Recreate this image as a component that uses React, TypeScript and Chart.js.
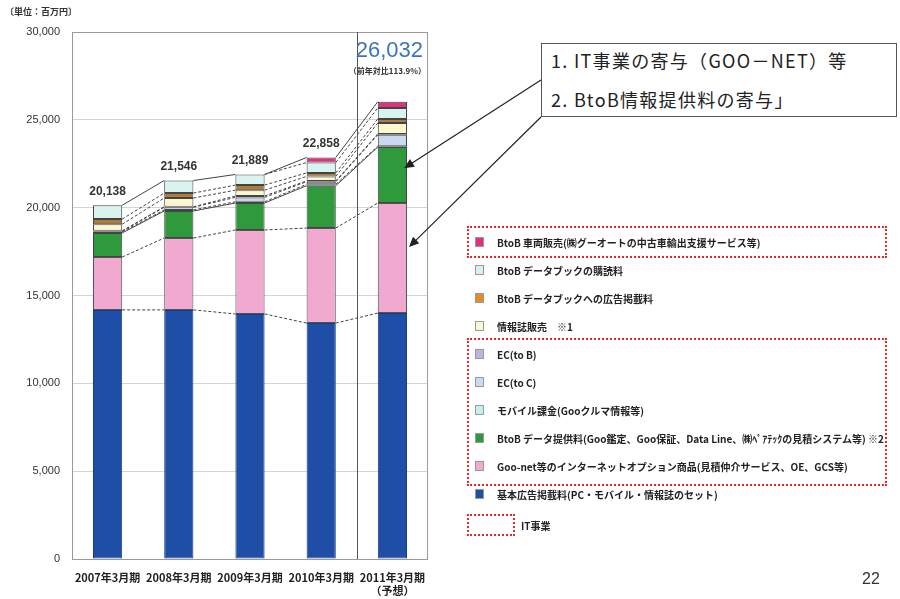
import React, { useEffect, useRef } from "react";
import { Chart, registerables } from "chart.js";
Chart.register(...registerables);

// ---- data (百万円) ----
const CATEGORIES: string[][] = [["2007年3月期"], ["2008年3月期"], ["2009年3月期"], ["2010年3月期"], ["2011年3月期", "（予想）"]];
const BASIC_AD = [14180, 14180, 13950, 13430, 14000];
const INTERNET_OPTION = [3010, 4090, 4780, 5410, 6265];
const BTOB_DATA = [1370, 1540, 1535, 2410, 3185];
const MOBILE = [60, 60, 70, 80, 50];
const EC_TO_C = [40, 150, 250, 150, 650];
const EC_TO_B = [20, 30, 80, 40, 50];
const MAGAZINE = [380, 500, 330, 260, 620];
const DATABOOK_AD = [290, 280, 290, 200, 230];
const DATABOOK_SUB = [788, 716, 604, 590, 630];
const VEHICLE: (number | null)[] = [null, null, null, 288, 352];
const Y_TICKS = [0, 5000, 10000, 15000, 20000, 25000, 30000];
const YOY_TEXT = "（前年対比113.9%）";

const SERIES = [
  { label: "基本広告掲載料(PC・モバイル・情報誌のセット)", data: BASIC_AD, color: "#1f4ea6", border: "#173c82" },
  { label: "Goo-net等のインターネットオプション商品(見積仲介サービス、OE、GCS等)", data: INTERNET_OPTION, color: "#f2a9cf", border: "#555" },
  { label: "BtoB データ提供料(Goo鑑定、Goo保証、Data Line、㈱ﾍﾟｱﾃｯｸの見積システム等) ※2", data: BTOB_DATA, color: "#2e9a3c", border: "#444" },
  { label: "モバイル課金(Gooクルマ情報等)", data: MOBILE, color: "#c6eef2", border: "#444" },
  { label: "EC(to C)", data: EC_TO_C, color: "#c9d9f1", border: "#444" },
  { label: "EC(to B)", data: EC_TO_B, color: "#b7b6e6", border: "#444" },
  { label: "情報誌販売 ※1", data: MAGAZINE, color: "#fbf8cf", border: "#444" },
  { label: "BtoB データブックへの広告掲載料", data: DATABOOK_AD, color: "#b27a3a", border: "#444" },
  { label: "BtoB データブックの購読料", data: DATABOOK_SUB, color: "#d9f3ef", border: "#444" },
  { label: "BtoB 車両販売(㈱グーオートの中古車輸出支援サービス等)", data: VEHICLE, color: "#e2307f", border: "#444" },
];

// legend order (top to bottom) with marker colours
const LEGEND = [
  { text: "BtoB 車両販売(㈱グーオートの中古車輸出支援サービス等)", color: "#e2307f" },
  { text: "BtoB データブックの購読料", color: "#d6f1ee" },
  { text: "BtoB データブックへの広告掲載料", color: "#e68a2e" },
  { text: "情報誌販売　※1", color: "#fbf8cf" },
  { text: "EC(to B)", color: "#b7b6e6" },
  { text: "EC(to C)", color: "#c9d9f1" },
  { text: "モバイル課金(Gooクルマ情報等)", color: "#c6eef2" },
  { text: "BtoB データ提供料(Goo鑑定、Goo保証、Data Line、㈱ﾍﾟｱﾃｯｸの見積システム等) ※2", color: "#2e9a3c" },
  { text: "Goo-net等のインターネットオプション商品(見積仲介サービス、OE、GCS等)", color: "#f2a9cf" },
  { text: "基本広告掲載料(PC・モバイル・情報誌のセット)", color: "#1f4ea6" },
];

const CALLOUT = { left: 541, top: 43, width: 356, height: 74 };
const JP = '"Noto Sans CJK JP", "Noto Sans", sans-serif';

function arrow(ctx: CanvasRenderingContext2D, x1: number, y1: number, x2: number, y2: number) {
  const ang = Math.atan2(y2 - y1, x2 - x1);
  ctx.beginPath();
  ctx.moveTo(x1, y1);
  ctx.lineTo(x2 - Math.cos(ang) * 6, y2 - Math.sin(ang) * 6);
  ctx.stroke();
  const h = 10, w = 4.5;
  ctx.beginPath();
  ctx.moveTo(x2, y2);
  ctx.lineTo(x2 - h * Math.cos(ang) + w * Math.sin(ang), y2 - h * Math.sin(ang) - w * Math.cos(ang));
  ctx.lineTo(x2 - h * Math.cos(ang) - w * Math.sin(ang), y2 - h * Math.sin(ang) + w * Math.cos(ang));
  ctx.closePath();
  ctx.fill();
}

const overlay = {
  id: "overlay",
  beforeDatasetsDraw(chart: any) {
    const { ctx, chartArea: a, scales } = chart;
    const x = scales.x;
    ctx.save();
    ctx.strokeStyle = "#9a9a9a";
    ctx.lineWidth = 1;
    ctx.strokeRect(a.left + 0.5, a.top + 0.5, a.right - a.left - 1, a.bottom - a.top);
    const sx = Math.round((x.getPixelForValue(3) + x.getPixelForValue(4)) / 2) + 0.5;
    ctx.strokeStyle = "#555";
    ctx.beginPath();
    ctx.moveTo(sx, a.top);
    ctx.lineTo(sx, a.bottom);
    ctx.stroke();
    ctx.restore();
  },
  afterDatasetsDraw(chart: any) {
    const { ctx, scales } = chart;
    const y = scales.y;
    const n = CATEGORIES.length;
    const cum: number[][] = [];
    const run = new Array(n).fill(0);
    SERIES.forEach((s) => {
      for (let i = 0; i < n; i++) run[i] += (s.data[i] as number) || 0;
      cum.push(run.slice());
    });
    const meta = chart.getDatasetMeta(0).data;
    ctx.save();
    ctx.lineWidth = 1;
    ctx.strokeStyle = "#444";
    for (let d = 0; d < SERIES.length; d++) {
      for (let i = 0; i < n - 1; i++) {
        const v0 = SERIES[d].data[i], v1 = SERIES[d].data[i + 1];
        if (v0 == null && v1 == null) continue;
        const b0 = meta[i], b1 = meta[i + 1];
        const xa = b0.x + b0.width / 2, xb = b1.x - b1.width / 2;
        const isTop = d === SERIES.length - 1 || (d === SERIES.length - 2 && i < 2);
        ctx.setLineDash(isTop || d === 2 ? [] : [3, 2]);
        ctx.beginPath();
        ctx.moveTo(xa, y.getPixelForValue(cum[d][i]));
        ctx.lineTo(xb, y.getPixelForValue(cum[d][i + 1]));
        ctx.stroke();
      }
    }
    ctx.setLineDash([]);
    // totals
    const totals = cum[cum.length - 1];
    ctx.textAlign = "center";
    ctx.textBaseline = "middle";
    for (let i = 0; i < n; i++) {
      const b = meta[i];
      const t = totals[i].toLocaleString("en-US");
      const top = y.getPixelForValue(totals[i]);
      if (i < n - 1) {
        ctx.fillStyle = "#333";
        ctx.font = 'bold 12px "Liberation Sans", Arial, sans-serif';
        ctx.fillText(t, b.x, top - 14);
      } else {
        ctx.fillStyle = "#3b73c4";
        ctx.font = '22px "Liberation Sans", Arial, sans-serif';
        ctx.fillText(t, b.x - 3, top - 51);
        ctx.fillStyle = "#333";
        ctx.font = `bold 8px ${JP}`;
        ctx.fillText(YOY_TEXT, b.x - 5, top - 31);
      }
    }
    // arrows from callout box
    const last = n - 1;
    const b = meta[last];
    const right = b.x + b.width / 2;
    ctx.strokeStyle = "#222";
    ctx.fillStyle = "#222";
    ctx.lineWidth = 1.2;
    const g0 = cum[1][last], g1 = cum[2][last];
    const p0 = cum[0][last], p1 = cum[1][last];
    arrow(ctx, CALLOUT.left, CALLOUT.top + 37, right - 3, y.getPixelForValue(g0 + (g1 - g0) * 0.62));
    arrow(ctx, CALLOUT.left, CALLOUT.top + CALLOUT.height, right + 2, y.getPixelForValue(p0 + (p1 - p0) * 0.6));
    ctx.restore();
  },
};

export default function App() {
  const ref = useRef<HTMLCanvasElement>(null);
  useEffect(() => {
    if (!ref.current) return;
    const chart = new Chart(ref.current, {
      type: "bar",
      data: {
        labels: CATEGORIES as any,
        datasets: SERIES.map((s) => ({
          label: s.label,
          data: s.data as any,
          backgroundColor: s.color,
          borderColor: s.border,
          borderWidth: 1,
          borderSkipped: false,
          categoryPercentage: 1,
          barPercentage: 0.41,
        })),
      },
      options: {
        responsive: false,
        animation: false,
        layout: { padding: { left: 0, top: 32, right: 472, bottom: 0 } },
        plugins: { legend: { display: false }, tooltip: { enabled: false } },
        scales: {
          x: {
            stacked: true,
            grid: { display: false, drawTicks: false, tickLength: 0 },
            border: { display: false },
            ticks: {
              color: "#222",
              padding: 12,
              autoSkip: false,
              minRotation: 0,
              maxRotation: 0,
              font: { family: JP, size: 11, weight: "bold" as any, lineHeight: 1.2 },
            },
            afterFit: (s: any) => { s.height = 40; },
          },
          y: {
            stacked: true,
            min: 0,
            max: 30000,
            afterBuildTicks: (s: any) => { s.ticks = Y_TICKS.map((v) => ({ value: v })); },
            grid: { color: "#d4d4d4", drawTicks: false },
            border: { display: false },
            ticks: {
              color: "#333",
              padding: 12,
              font: { family: '"Liberation Sans", Arial, sans-serif', size: 11 },
              callback: (v: any) => Number(v).toLocaleString("en-US"),
            },
            afterFit: (s: any) => { s.width = 72; },
          },
        },
      },
      plugins: [overlay],
    });
    return () => chart.destroy();
  }, []);

  const itemTop = (i: number) => 242 + i * 28;
  const dotted = "2px dotted #e02a2a";
  const calloutFont = { font: `18px ${JP}`, letterSpacing: "1.3px", color: "#222", whiteSpace: "nowrap" as const };
  return (
    <div style={{ position: "fixed", left: 0, top: 0, width: 900, height: 599, background: "#fff", overflow: "hidden" }}>
      <canvas ref={ref} width={900} height={599} style={{ display: "block", position: "absolute", left: 0, top: 0 }} />
      <div style={{ position: "absolute", left: 5, top: 5, font: `bold 9px ${JP}`, color: "#333" }}>〔単位：百万円〕</div>
      <div style={{ position: "absolute", left: CALLOUT.left, top: CALLOUT.top, width: CALLOUT.width, height: CALLOUT.height, border: "1px solid #555", boxSizing: "border-box", background: "#fff" }}>
        <div style={{ position: "absolute", left: 9, top: 3, ...calloutFont }}>1. IT事業の寄与（GOO－NET）等</div>
        <div style={{ position: "absolute", left: 9, top: 42, ...calloutFont }}>2. BtoB情報提供料の寄与」</div>
      </div>
      <div style={{ position: "absolute", left: 467, top: 226, width: 420, height: 32, border: dotted, boxSizing: "border-box" }} />
      <div style={{ position: "absolute", left: 467, top: 338, width: 420, height: 148, border: dotted, boxSizing: "border-box" }} />
      {LEGEND.map((it, i) => (
        <div key={i} style={{ position: "absolute", left: 475, top: itemTop(i) - 7, height: 14, display: "flex", alignItems: "center", whiteSpace: "nowrap" }}>
          <div style={{ width: 9, height: 10, background: it.color, border: "1px solid #9a9a9a", boxSizing: "border-box" }} />
          <div style={{ marginLeft: 13, font: `bold 10px ${JP}`, color: "#222" }}>{it.text}</div>
        </div>
      ))}
      <div style={{ position: "absolute", left: 467, top: 514, width: 48, height: 22, border: dotted, boxSizing: "border-box" }} />
      <div style={{ position: "absolute", left: 521, top: 518, font: `bold 10px ${JP}`, color: "#222" }}>IT事業</div>
      <div style={{ position: "absolute", left: 862, top: 570, font: '16px "Liberation Sans", Arial, sans-serif', color: "#333" }}>22</div>
    </div>
  );
}
